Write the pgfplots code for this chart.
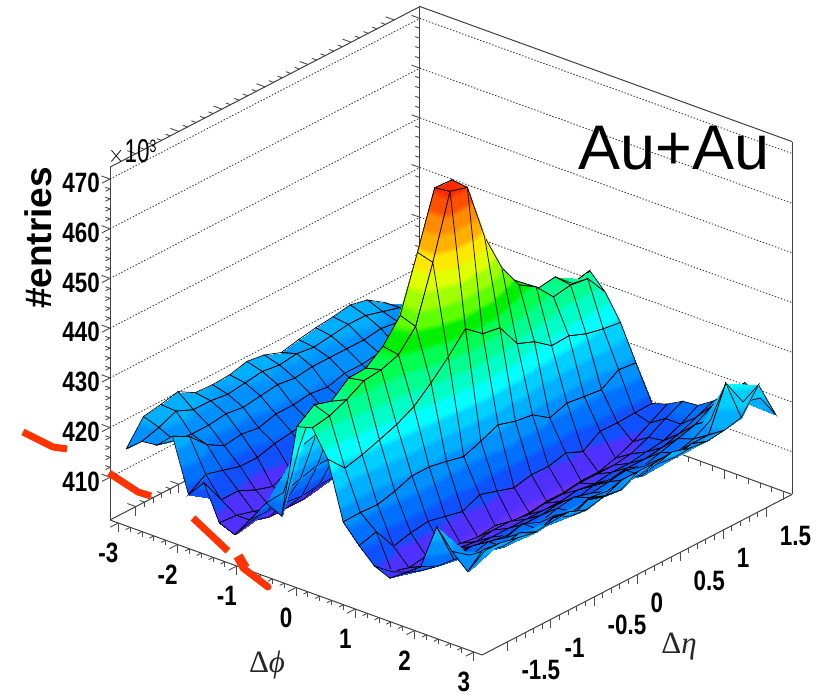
\documentclass[border=0pt]{standalone}
\usepackage{pgfplots}
\usepackage{fontspec}
\pgfplotsset{compat=1.18}
\setmainfont{Liberation Sans}
\newfontfamily\tk[FakeStretch=0.8]{Liberation Sans}
\newfontfamily\gr{Liberation Serif}
\definecolor{redmark}{RGB}{255,51,0}
\pgfplotsset{colormap={rootc}{
rgb255=(112,48,255) rgb255=(112,48,255) rgb255=(112,48,255)
rgb255=(80,48,255) rgb255=(80,48,255) rgb255=(80,48,255)
rgb255=(16,80,255) rgb255=(16,80,255) rgb255=(16,80,255)
rgb255=(0,112,255) rgb255=(0,112,255) rgb255=(0,112,255)
rgb255=(0,144,255) rgb255=(0,144,255) rgb255=(0,144,255)
rgb255=(0,176,255) rgb255=(0,176,255) rgb255=(0,176,255)
rgb255=(0,208,255) rgb255=(0,208,255) rgb255=(0,208,255)
rgb255=(0,255,255) rgb255=(0,255,255) rgb255=(0,255,255)
rgb255=(0,255,200) rgb255=(0,255,200) rgb255=(0,255,200)
rgb255=(0,255,144) rgb255=(0,255,144) rgb255=(0,255,144)
rgb255=(0,255,80) rgb255=(0,255,80) rgb255=(0,255,80)
rgb255=(0,240,0) rgb255=(0,240,0) rgb255=(0,240,0)
rgb255=(96,255,0) rgb255=(96,255,0) rgb255=(96,255,0)
rgb255=(160,255,0) rgb255=(160,255,0) rgb255=(160,255,0)
rgb255=(224,255,0) rgb255=(224,255,0) rgb255=(224,255,0)
rgb255=(255,232,0) rgb255=(255,232,0) rgb255=(255,232,0)
rgb255=(255,176,0) rgb255=(255,176,0) rgb255=(255,176,0)
rgb255=(255,140,0) rgb255=(255,140,0) rgb255=(255,140,0)
rgb255=(255,80,0) rgb255=(255,80,0) rgb255=(255,80,0)
rgb255=(255,40,0) rgb255=(255,40,0) rgb255=(255,40,0)
}}
\begin{document}
\begin{tikzpicture}[x=1pt,y=1pt]
\useasboundingbox (0,0) rectangle (821,693);
\begin{axis}[
  at={(110pt,38pt)},anchor=south west,
  x={(59.24pt,-21.5pt)},y={(86.1pt,44.6pt)},z={(0pt,4.97pt)},
  xmin=-3.14,xmax=3.14,ymin=-1.8,ymax=1.8,zmin=401.4,zmax=472.4,
  clip=false,
  point meta min=403,point meta max=468,
  xtick={-3,-2,-1,0,1,2,3},
  ytick={-1.5,-1,-0.5,0,0.5,1,1.5},
  ztick={410,420,430,440,450,460,470},
  xticklabels={-3,-2,-1,0,1,2,3},
  yticklabels={-1.5,-1,-0.5,0,0.5,1,1.5},
  zticklabels={410,420,430,440,450,460,470},
  minor x tick num=4,minor y tick num=4,minor z tick num=4,
  major tick length=9pt,minor tick length=5pt,
  tick align=outside,
  tick pos=left,
  tick style={color=black!70,line width=0.9pt},
  axis line style={color=black!75,line width=1pt},
  zmajorgrids=true,xmajorgrids=false,ymajorgrids=false,
  major z grid style={dash pattern=on 1.4pt off 1.8pt,color=black!75,line width=0.9pt},
  tick label style={font=\tk\bfseries\fontsize{28}{28}\selectfont},
  xticklabel style={anchor=center,inner sep=0pt,xshift=-2pt,yshift=-26pt},
  yticklabel style={anchor=west,inner sep=0pt,xshift=5pt,yshift=-25pt},
  zticklabel style={anchor=east,inner sep=0pt,xshift=-2pt},
]
\addplot3[surf,shader=faceted interp,faceted color=black,line width=0.7pt,z buffer=reverse y seq,
  mesh/ordering=y varies,mesh/rows=18,mesh/cols=24] coordinates {
(-3.01,-1.7,415.4)(-3.01,-1.5,420.1)(-3.01,-1.3,420.7)(-3.01,-1.1,421.5)(-3.01,-0.9,419.5)(-3.01,-0.7,419.3)(-3.01,-0.5,419.5)(-3.01,-0.3,420.4)(-3.01,-0.1,419.9)(-3.01,0.1,418.6)(-3.01,0.3,419.4)(-3.01,0.5,420)(-3.01,0.7,420.4)(-3.01,0.9,421)(-3.01,1.1,420.2)(-3.01,1.3,417.9)(-3.01,1.5,414.7)(-3.01,1.7,414)
(-2.75,-1.7,418)(-2.75,-1.5,419)(-2.75,-1.3,420.5)(-2.75,-1.1,419)(-2.75,-0.9,419)(-2.75,-0.7,418.5)(-2.75,-0.5,419)(-2.75,-0.3,419.5)(-2.75,-0.1,419)(-2.75,0.1,419.5)(-2.75,0.3,419)(-2.75,0.5,419.5)(-2.75,0.7,420)(-2.75,0.9,420)(-2.75,1.1,419)(-2.75,1.3,418)(-2.75,1.5,417)(-2.75,1.7,416)
(-2.49,-1.7,418.4)(-2.49,-1.5,417.5)(-2.49,-1.3,417)(-2.49,-1.1,417)(-2.49,-0.9,417.5)(-2.49,-0.7,417)(-2.49,-0.5,417.5)(-2.49,-0.3,418)(-2.49,-0.1,417.5)(-2.49,0.1,418)(-2.49,0.3,418)(-2.49,0.5,418)(-2.49,0.7,418)(-2.49,0.9,418.5)(-2.49,1.1,418)(-2.49,1.3,417)(-2.49,1.5,416.5)(-2.49,1.7,416)
(-2.23,-1.7,421.3)(-2.23,-1.5,419.4)(-2.23,-1.3,416)(-2.23,-1.1,414)(-2.23,-0.9,414.5)(-2.23,-0.7,414)(-2.23,-0.5,415)(-2.23,-0.3,415)(-2.23,-0.1,415.5)(-2.23,0.1,415)(-2.23,0.3,416)(-2.23,0.5,416)(-2.23,0.7,416.5)(-2.23,0.9,416)(-2.23,1.1,416)(-2.23,1.3,416)(-2.23,1.5,415.5)(-2.23,1.7,415)
(-1.96,-1.7,410.7)(-1.96,-1.5,413)(-1.96,-1.3,412)(-1.96,-1.1,411)(-1.96,-0.9,411)(-1.96,-0.7,412)(-1.96,-0.5,412.5)(-1.96,-0.3,413)(-1.96,-0.1,413)(-1.96,0.1,413.5)(-1.96,0.3,414)(-1.96,0.5,414)(-1.96,0.7,414)(-1.96,0.9,414)(-1.96,1.1,414)(-1.96,1.3,414)(-1.96,1.5,414)(-1.96,1.7,414)
(-1.70,-1.7,414.2)(-1.70,-1.5,409)(-1.70,-1.3,409)(-1.70,-1.1,407.4)(-1.70,-0.9,406.3)(-1.70,-0.7,408)(-1.70,-0.5,409)(-1.70,-0.3,410)(-1.70,-0.1,411)(-1.70,0.1,411.5)(-1.70,0.3,411.5)(-1.70,0.5,412)(-1.70,0.7,412)(-1.70,0.9,412.5)(-1.70,1.1,412)(-1.70,1.3,412.5)(-1.70,1.5,412.5)(-1.70,1.7,413)
(-1.44,-1.7,407.3)(-1.44,-1.5,407)(-1.44,-1.3,406)(-1.44,-1.1,405)(-1.44,-0.9,405)(-1.44,-0.7,405.5)(-1.44,-0.5,406.5)(-1.44,-0.3,408)(-1.44,-0.1,410)(-1.44,0.1,410)(-1.44,0.3,411)(-1.44,0.5,411)(-1.44,0.7,411)(-1.44,0.9,411.5)(-1.44,1.1,412)(-1.44,1.3,412)(-1.44,1.5,412)(-1.44,1.7,413)
(-1.18,-1.7,406)(-1.18,-1.5,407)(-1.18,-1.3,406)(-1.18,-1.1,406)(-1.18,-0.9,406)(-1.18,-0.7,407)(-1.18,-0.5,408)(-1.18,-0.3,410)(-1.18,-0.1,410.5)(-1.18,0.1,411)(-1.18,0.3,411)(-1.18,0.5,411.5)(-1.18,0.7,412)(-1.18,0.9,412)(-1.18,1.1,413)(-1.18,1.3,413)(-1.18,1.5,414)(-1.18,1.7,414)
(-0.92,-1.7,410.2)(-0.92,-1.5,410)(-0.92,-1.3,410)(-0.92,-1.1,409.5)(-0.92,-0.9,410)(-0.92,-0.7,410)(-0.92,-0.5,411)(-0.92,-0.3,412)(-0.92,-0.1,412)(-0.92,0.1,412)(-0.92,0.3,412)(-0.92,0.5,413)(-0.92,0.7,413)(-0.92,0.9,413)(-0.92,1.1,414)(-0.92,1.3,415)(-0.92,1.5,416)(-0.92,1.7,415)
(-0.65,-1.7,414.7)(-0.65,-1.5,415)(-0.65,-1.3,416)(-0.65,-1.1,417)(-0.65,-0.9,417)(-0.65,-0.7,418)(-0.65,-0.5,418)(-0.65,-0.3,418)(-0.65,-0.1,420)(-0.65,0.1,420)(-0.65,0.3,419)(-0.65,0.5,418)(-0.65,0.7,418)(-0.65,0.9,418)(-0.65,1.1,418)(-0.65,1.3,419)(-0.65,1.5,420)(-0.65,1.7,420)
(-0.39,-1.7,413.2)(-0.39,-1.5,425)(-0.39,-1.3,426)(-0.39,-1.1,427)(-0.39,-0.9,428)(-0.39,-0.7,430)(-0.39,-0.5,433)(-0.39,-0.3,437)(-0.39,-0.1,441)(-0.39,0.1,439)(-0.39,0.3,437)(-0.39,0.5,432)(-0.39,0.7,430)(-0.39,0.9,428)(-0.39,1.1,428)(-0.39,1.3,427)(-0.39,1.5,426)(-0.39,1.7,426)
(-0.13,-1.7,432.3)(-0.13,-1.5,434.9)(-0.13,-1.3,433.8)(-0.13,-1.1,436.7)(-0.13,-0.9,436.9)(-0.13,-0.7,439.5)(-0.13,-0.5,443.9)(-0.13,-0.3,454.8)(-0.13,-0.1,466)(-0.13,0.1,465.8)(-0.13,0.3,455)(-0.13,0.5,446)(-0.13,0.7,441)(-0.13,0.9,438)(-0.13,1.1,435)(-0.13,1.3,435.5)(-0.13,1.5,432.4)(-0.13,1.7,433.2)
(0.13,-1.7,433.2)(0.13,-1.5,433.8)(0.13,-1.3,435.3)(0.13,-1.1,437.3)(0.13,-0.9,437.7)(0.13,-0.7,438.9)(0.13,-0.5,442.8)(0.13,-0.3,453.9)(0.13,-0.1,466.4)(0.13,0.1,465.4)(0.13,0.3,453.7)(0.13,0.5,445.7)(0.13,0.7,440.4)(0.13,0.9,438.2)(0.13,1.1,434.4)(0.13,1.3,435)(0.13,1.5,434.5)(0.13,1.7,430)
(0.39,-1.7,428)(0.39,-1.5,424.4)(0.39,-1.3,425.3)(0.39,-1.1,426.5)(0.39,-0.9,427.8)(0.39,-0.7,429.6)(0.39,-0.5,432.6)(0.39,-0.3,436)(0.39,-0.1,439.9)(0.39,0.1,437.1)(0.39,0.3,436.5)(0.39,0.5,431.5)(0.39,0.7,430.1)(0.39,0.9,427.5)(0.39,1.1,427.7)(0.39,1.3,426.3)(0.39,1.5,425.5)(0.39,1.7,425)
(0.65,-1.7,416.5)(0.65,-1.5,416.6)(0.65,-1.3,416.4)(0.65,-1.1,417.3)(0.65,-0.9,418.6)(0.65,-0.7,418.6)(0.65,-0.5,417.9)(0.65,-0.3,417.1)(0.65,-0.1,418.4)(0.65,0.1,419.9)(0.65,0.3,418.8)(0.65,0.5,418.3)(0.65,0.7,415.9)(0.65,0.9,417.1)(0.65,1.1,416.6)(0.65,1.3,416.2)(0.65,1.5,418.4)(0.65,1.7,418)
(0.92,-1.7,412.9)(0.92,-1.5,413.9)(0.92,-1.3,409.2)(0.92,-1.1,410.1)(0.92,-0.9,410.6)(0.92,-0.7,409.8)(0.92,-0.5,409)(0.92,-0.3,410.6)(0.92,-0.1,409.5)(0.92,0.1,408.4)(0.92,0.3,409.2)(0.92,0.5,409.1)(0.92,0.7,410)(0.92,0.9,408.5)(0.92,1.1,410.8)(0.92,1.3,410.7)(0.92,1.5,410.9)(0.92,1.7,411)
(1.18,-1.7,409.9)(1.18,-1.5,407)(1.18,-1.3,406)(1.18,-1.1,406.5)(1.18,-0.9,406)(1.18,-0.7,405.5)(1.18,-0.5,405)(1.18,-0.3,405.5)(1.18,-0.1,404.5)(1.18,0.1,404.5)(1.18,0.3,405)(1.18,0.5,405)(1.18,0.7,405.5)(1.18,0.9,405.5)(1.18,1.1,406.5)(1.18,1.3,408)(1.18,1.5,410)(1.18,1.7,412)
(1.44,-1.7,408.6)(1.44,-1.5,408)(1.44,-1.3,407.5)(1.44,-1.1,408)(1.44,-0.9,407.5)(1.44,-0.7,407)(1.44,-0.5,407.5)(1.44,-0.3,407.5)(1.44,-0.1,407)(1.44,0.1,407.5)(1.44,0.3,407.5)(1.44,0.5,408)(1.44,0.7,408)(1.44,0.9,408)(1.44,1.1,408.5)(1.44,1.3,410)(1.44,1.5,412)(1.44,1.7,413.7)
(1.70,-1.7,410.8)(1.70,-1.5,409.5)(1.70,-1.3,409.5)(1.70,-1.1,409.5)(1.70,-0.9,409)(1.70,-0.7,409)(1.70,-0.5,409)(1.70,-0.3,409)(1.70,-0.1,409)(1.70,0.1,409)(1.70,0.3,409.5)(1.70,0.5,409)(1.70,0.7,409.5)(1.70,0.9,409.5)(1.70,1.1,410)(1.70,1.3,410.5)(1.70,1.5,412)(1.70,1.7,414)
(1.96,-1.7,413.2)(1.96,-1.5,411.5)(1.96,-1.3,411.5)(1.96,-1.1,412)(1.96,-0.9,411)(1.96,-0.7,410.5)(1.96,-0.5,411)(1.96,-0.3,411)(1.96,-0.1,411.5)(1.96,0.1,410.5)(1.96,0.3,411.5)(1.96,0.5,411)(1.96,0.7,411.5)(1.96,0.9,411.5)(1.96,1.1,412)(1.96,1.3,413)(1.96,1.5,414.5)(1.96,1.7,416)
(2.23,-1.7,422.4)(2.23,-1.5,414)(2.23,-1.3,413)(2.23,-1.1,414)(2.23,-0.9,413)(2.23,-0.7,414)(2.23,-0.5,412.5)(2.23,-0.3,413.5)(2.23,-0.1,414)(2.23,0.1,413)(2.23,0.3,413.5)(2.23,0.5,414)(2.23,0.7,413)(2.23,0.9,414)(2.23,1.1,415)(2.23,1.3,416)(2.23,1.5,418)(2.23,1.7,419)
(2.49,-1.7,418.5)(2.49,-1.5,416)(2.49,-1.3,415)(2.49,-1.1,414)(2.49,-0.9,415)(2.49,-0.7,414)(2.49,-0.5,415)(2.49,-0.3,414)(2.49,-0.1,415)(2.49,0.1,414.5)(2.49,0.3,415)(2.49,0.5,414)(2.49,0.7,415.5)(2.49,0.9,415)(2.49,1.1,416)(2.49,1.3,418)(2.49,1.5,421)(2.49,1.7,422)
(2.75,-1.7,415.6)(2.75,-1.5,418)(2.75,-1.3,417)(2.75,-1.1,418)(2.75,-0.9,416.5)(2.75,-0.7,417.5)(2.75,-0.5,416)(2.75,-0.3,417.5)(2.75,-0.1,416.5)(2.75,0.1,418)(2.75,0.3,417)(2.75,0.5,417.5)(2.75,0.7,417)(2.75,0.9,418)(2.75,1.1,418)(2.75,1.3,426.6)(2.75,1.5,421)(2.75,1.7,420)
(3.01,-1.7,421.1)(3.01,-1.5,420.7)(3.01,-1.3,419.9)(3.01,-1.1,419.2)(3.01,-0.9,419.6)(3.01,-0.7,419.8)(3.01,-0.5,418.4)(3.01,-0.3,419.2)(3.01,-0.1,418.8)(3.01,0.1,420.7)(3.01,0.3,420.7)(3.01,0.5,421.1)(3.01,0.7,420)(3.01,0.9,419.6)(3.01,1.1,420)(3.01,1.3,420.8)(3.01,1.5,425.6)(3.01,1.7,417.8)
};
\end{axis}
\node[rotate=90,font=\bfseries\fontsize{37}{37}\selectfont] at (38,455) {\#entries};
\node[anchor=west,font=\tk\fontsize{33}{33}\selectfont,text=black,inner sep=0pt] at (108,541) {\scalebox{0.85}[1]{$\times$10\raisebox{10pt}{\fontsize{18}{18}\selectfont 3}}};
\node[anchor=base west,font=\fontsize{63}{63}\selectfont,inner sep=0pt] at (578,523) {Au+Au};
\node[font=\gr\fontsize{31}{31}\selectfont,text=black!85] at (267,28) {Δ\textit{ϕ}};
\node[font=\gr\fontsize{31}{31}\selectfont,text=black!85] at (679,46) {Δ\textit{η}};
\begin{scope}[redmark,line width=7pt,line cap=butt]
\draw (23,261) -- (53,246) -- (67,244);
\draw (109,220) -- (138,201) -- (151,197);
\draw (193,175) -- (228,142);
\draw[line cap=round] (243,125) -- (268,106);
\draw[line width=10pt] (238,137) -- (245,125);
\end{scope}
\end{tikzpicture}
\end{document}
